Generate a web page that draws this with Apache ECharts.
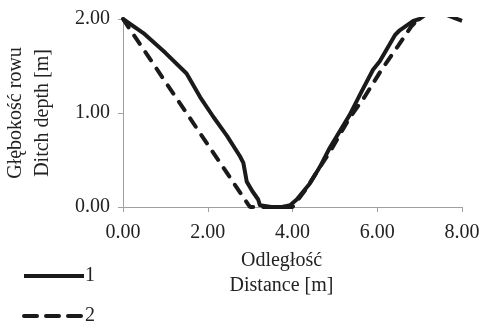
<!DOCTYPE html>
<html>
<head>
<meta charset="utf-8">
<script src="https://cdn.jsdelivr.net/npm/echarts@6/dist/echarts.min.js"></script>
<style>html,body{margin:0;padding:0;background:#fff}#c{width:483px;height:324px}</style>
</head>
<body>
<div id="c"></div>
<script>
const xTicks = ['0.00','2.00','4.00','6.00','8.00'];
const yTicks = ['0.00','1.00','2.00'];
const seriesNames = ['1', '2'];
const solidX = [0, 0.48, 1.0, 1.50, 1.82, 2.13, 2.45, 2.76, 2.84, 2.92, 3.05, 3.19, 3.23, 3.5, 3.75, 3.95, 4.10, 4.41, 4.65, 4.88, 5.35, 5.62, 5.90, 6.06, 6.42, 6.53, 6.85, 7.0, 7.3, 7.65, 8.0];
const solidY = [2.0, 1.85, 1.64, 1.42, 1.17, 0.96, 0.76, 0.54, 0.47, 0.27, 0.17, 0.08, 0.02, 0.0, 0.0, 0.02, 0.08, 0.25, 0.43, 0.63, 0.98, 1.22, 1.46, 1.55, 1.83, 1.88, 1.98, 2.0, 2.1, 2.04, 1.98];
const dashX = [0, 2.95, 3.0, 4.0, 4.3, 4.9, 5.35, 5.7, 6.1, 6.5, 6.8, 6.95, 7.0];
const dashY = [2.0, 0.03, 0.0, 0.0, 0.18, 0.6, 0.95, 1.17, 1.46, 1.72, 1.92, 1.99, 2.0];

const pairs = (xs, ys) => xs.map((x, i) => [x, ys[i]]);
const font = 'Liberation Serif';
const legendBase = {
  orient: 'vertical', left: 22, padding: 0,
  itemWidth: 60, itemHeight: 14,
  textStyle: { fontFamily: font, fontSize: 20, color: '#222', padding: [0, 0, 0, -4] },
  itemStyle: { opacity: 0 }
};
const chart = echarts.init(document.getElementById('c'));
chart.setOption({
  animation: false,
  textStyle: { fontFamily: font, color: '#222' },
  grid: { left: 123, right: 21, top: 19, bottom: 117, containLabel: false, outerBoundsMode: 'none' },
  xAxis: {
    type: 'value', min: 0, max: 8, interval: 2,
    name: 'Odległość\nDistance [m]', nameLocation: 'middle', nameGap: 40,
    nameTextStyle: { fontFamily: font, fontSize: 20, color: '#222', lineHeight: 25, padding: [0, 22, 0, 0] },
    axisLine: { lineStyle: { color: '#a0a0a0', width: 1 } },
    axisTick: { show: true, length: 5, lineStyle: { color: '#a0a0a0' } },
    axisLabel: { fontFamily: font, fontSize: 20, color: '#222', margin: 16, formatter: v => xTicks[v / 2] },
    splitLine: { show: false }
  },
  yAxis: {
    type: 'value', min: 0, max: 2, interval: 1,
    name: 'Głębokość rowu\nDitch depth [m]', nameLocation: 'middle', nameGap: 67,
    nameTextStyle: { fontFamily: font, fontSize: 20, color: '#222', lineHeight: 27 },
    axisLine: { show: true, lineStyle: { color: '#a0a0a0', width: 1 } },
    axisTick: { show: true, length: 5, lineStyle: { color: '#a0a0a0' } },
    axisLabel: { fontFamily: font, fontSize: 20, color: '#222', margin: 13, formatter: v => yTicks[v] },
    splitLine: { show: false }
  },
  legend: [
    Object.assign({}, legendBase, { top: 266, data: [seriesNames[0]], lineStyle: { width: 4 } }),
    Object.assign({}, legendBase, { top: 306, data: [seriesNames[1]], lineStyle: { width: 4, type: [13, 9], cap: 'round' } })
  ],
  series: [
    { name: seriesNames[0], type: 'line', data: pairs(solidX, solidY), symbol: 'none', smooth: false,
      lineStyle: { color: '#1a1a1a', width: 4, type: 'solid', join: 'round' }, itemStyle: { color: '#1a1a1a' } },
    { name: seriesNames[1], type: 'line', data: pairs(dashX, dashY), symbol: 'none', smooth: false,
      lineStyle: { color: '#1a1a1a', width: 4, type: [10, 10], cap: 'round' }, itemStyle: { color: '#1a1a1a' } }
  ]
});
</script>
</body>
</html>
